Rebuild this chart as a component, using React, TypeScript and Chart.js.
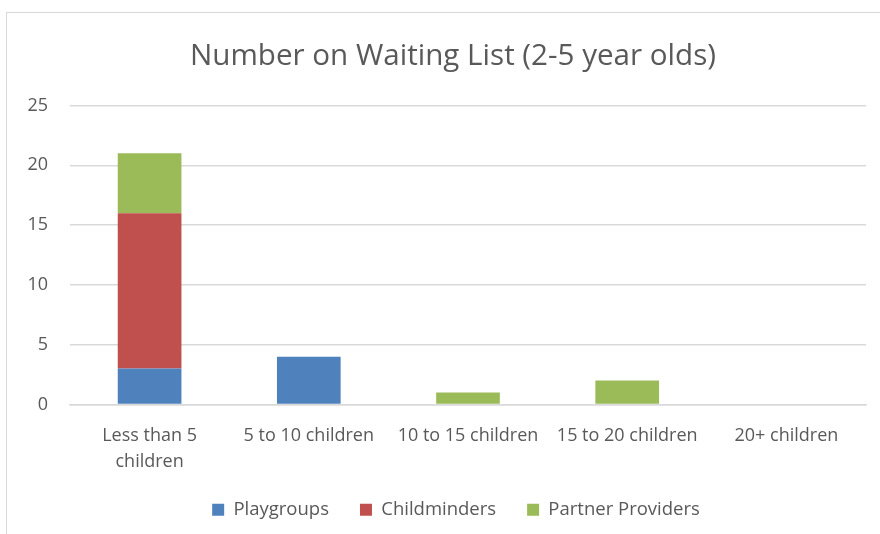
import React, { useEffect, useRef } from "react";
import { Chart, registerables } from "chart.js";

Chart.register(...registerables);

const categories: (string | string[])[] = [
  ["Less than 5", "children"],
  "5 to 10 children",
  "10 to 15 children",
  "15 to 20 children",
  "20+ children",
];
const playgroups = [3, 4, 0, 0, 0];
const childminders = [13, 0, 0, 0, 0];
const partnerProviders = [5, 0, 1, 2, 0];
const yTicks = [0, 5, 10, 15, 20, 25];

const FONT = "'Open Sans', Lato, sans-serif";
const TEXT = "#595959";
const GRID = "#d9d9d9";

const shiftBlocks = {
  id: "shiftBlocks",
  afterLayout(chart: any) {
    const t = chart.titleBlock;
    if (t) { t.left += 16; t.right += 16; }
    const l = chart.legend;
    if (l) { l.left += 19; l.right += 19; }
  },
};

export default function App() {
  const ref = useRef<HTMLCanvasElement | null>(null);
  useEffect(() => {
    if (!ref.current) return;
    const chart = new Chart(ref.current, {
      type: "bar",
      data: {
        labels: categories,
        datasets: [
          { label: "Playgroups", data: playgroups, backgroundColor: "#4F81BD", categoryPercentage: 1, barPercentage: 0.4 },
          { label: "Childminders", data: childminders, backgroundColor: "#C0504D", categoryPercentage: 1, barPercentage: 0.4 },
          { label: "Partner Providers", data: partnerProviders, backgroundColor: "#9BBB59", categoryPercentage: 1, barPercentage: 0.4 },
        ],
      },
      plugins: [shiftBlocks],
      options: {
        animation: false,
        responsive: false,
        maintainAspectRatio: false,
        layout: { padding: { left: 0, right: 32, top: 0, bottom: 5 } },
        plugins: {
          title: {
            display: true,
            text: "Number on Waiting List (2-5 year olds)",
            color: TEXT,
            font: { family: FONT, size: 29.6, weight: "normal", lineHeight: 1.2 },
            padding: { top: 25, bottom: 31 },
          },
          legend: {
            position: "bottom",
            labels: {
              color: TEXT,
              font: { family: FONT, size: 18.5 },
              boxWidth: 12,
              boxHeight: 12,
              padding: 31,
            },
          },
          tooltip: { enabled: false },
        },
        scales: {
          x: {
            stacked: true,
            grid: { display: false, drawTicks: false },
            border: { display: true, color: GRID, width: 1.5 },
            ticks: {
              color: TEXT,
              font: { family: FONT, size: 18, lineHeight: 1.45 },
              padding: 18,
              maxRotation: 0,
              autoSkip: false,
            },
            afterFit: (s: any) => { s.height = 65; },
          },
          y: {
            stacked: true,
            min: 0,
            max: 25,
            afterBuildTicks: (s: any) => { s.ticks = yTicks.map((v) => ({ value: v })); },
            grid: { color: GRID, lineWidth: 1.5, drawTicks: false },
            border: { display: false },
            ticks: {
              color: TEXT,
              font: { family: FONT, size: 18 },
              padding: 22,
            },
            afterFit: (s: any) => { s.width = 62; },
          },
        },
      },
    });
    return () => chart.destroy();
  }, []);
  return (
    <div style={{ position: "fixed", left: 0, top: 0, width: 880, height: 534, background: "#fff", overflow: "hidden" }}>
      <div style={{ position: "absolute", left: 6, top: 12, width: 920, height: 560, border: "1.5px solid #d9d9d9", boxSizing: "border-box" }} />
      <canvas ref={ref} width={890} height={520} style={{ position: "absolute", left: 8, top: 14, width: 890, height: 520 }} />
    </div>
  );
}
